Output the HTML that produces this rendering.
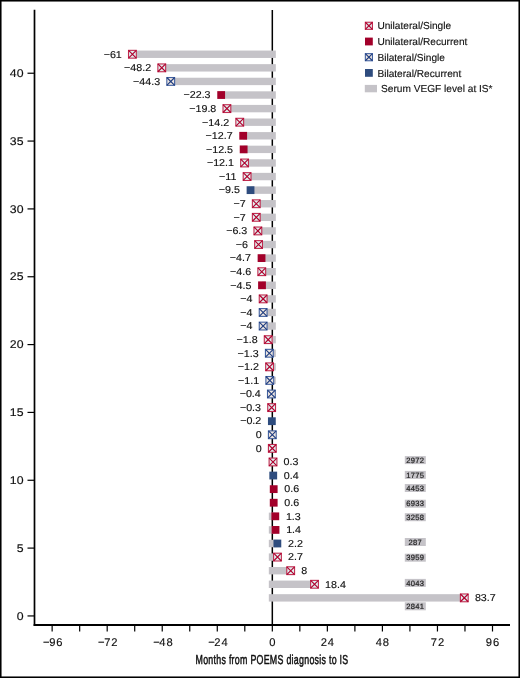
<!DOCTYPE html>
<html><head><meta charset="utf-8"><style>
html,body{margin:0;padding:0;background:#fff;}
body{width:520px;height:678px;overflow:hidden;}
svg{display:block;}
text{font-family:"Liberation Sans",sans-serif;fill:#111;text-rendering:geometricPrecision;}
svg{will-change:transform;}
.vl text{stroke:#111;stroke-width:0.14px;}
.vg text{stroke:#222;stroke-width:0.2px;fill:#222;}
</style></head><body>
<svg width="520" height="678" viewBox="0 0 520 678">
<rect x="0" y="0" width="520" height="678" fill="#fff"/>
<line x1="272.32" y1="10" x2="272.32" y2="625" stroke="#000" stroke-width="1.5"/>
<rect x="132.42" y="50.55" width="143.40" height="7.4" fill="#c5c3c8"/>
<rect x="161.77" y="64.14" width="114.05" height="7.4" fill="#c5c3c8"/>
<rect x="170.72" y="77.73" width="105.10" height="7.4" fill="#c5c3c8"/>
<rect x="221.17" y="91.32" width="54.65" height="7.4" fill="#c5c3c8"/>
<rect x="226.91" y="104.91" width="48.91" height="7.4" fill="#c5c3c8"/>
<rect x="239.75" y="118.50" width="36.07" height="7.4" fill="#c5c3c8"/>
<rect x="243.19" y="132.09" width="32.63" height="7.4" fill="#c5c3c8"/>
<rect x="243.65" y="145.68" width="32.17" height="7.4" fill="#c5c3c8"/>
<rect x="244.57" y="159.27" width="31.25" height="7.4" fill="#c5c3c8"/>
<rect x="247.09" y="172.86" width="28.73" height="7.4" fill="#c5c3c8"/>
<rect x="250.53" y="186.45" width="25.29" height="7.4" fill="#c5c3c8"/>
<rect x="256.27" y="200.04" width="19.55" height="7.4" fill="#c5c3c8"/>
<rect x="256.27" y="213.63" width="19.55" height="7.4" fill="#c5c3c8"/>
<rect x="257.87" y="227.23" width="17.95" height="7.4" fill="#c5c3c8"/>
<rect x="258.56" y="240.82" width="17.26" height="7.4" fill="#c5c3c8"/>
<rect x="261.54" y="254.41" width="14.28" height="7.4" fill="#c5c3c8"/>
<rect x="261.77" y="268.00" width="14.05" height="7.4" fill="#c5c3c8"/>
<rect x="262.00" y="281.59" width="13.82" height="7.4" fill="#c5c3c8"/>
<rect x="263.15" y="295.18" width="12.67" height="7.4" fill="#c5c3c8"/>
<rect x="263.15" y="308.77" width="12.67" height="7.4" fill="#c5c3c8"/>
<rect x="263.15" y="322.36" width="12.67" height="7.4" fill="#c5c3c8"/>
<rect x="268.19" y="335.95" width="7.63" height="7.4" fill="#c5c3c8"/>
<rect x="269.34" y="349.54" width="6.48" height="7.4" fill="#c5c3c8"/>
<rect x="269.57" y="363.13" width="6.25" height="7.4" fill="#c5c3c8"/>
<rect x="269.80" y="376.72" width="6.02" height="7.4" fill="#c5c3c8"/>
<rect x="268.82" y="512.62" width="6.48" height="7.4" fill="#c5c3c8"/>
<rect x="268.82" y="526.21" width="6.71" height="7.4" fill="#c5c3c8"/>
<rect x="268.82" y="539.80" width="8.55" height="7.4" fill="#c5c3c8"/>
<rect x="268.82" y="553.39" width="8.66" height="7.4" fill="#c5c3c8"/>
<rect x="268.82" y="566.99" width="21.85" height="7.4" fill="#c5c3c8"/>
<rect x="268.82" y="580.58" width="45.70" height="7.4" fill="#c5c3c8"/>
<rect x="268.82" y="594.17" width="195.47" height="7.4" fill="#c5c3c8"/>
<g font-size="10" class="vl">
<rect x="128.52" y="50.35" width="7.80" height="7.80" fill="#e0eeee" stroke="#c02c50" stroke-width="1.1"/><path d="M128.52 50.35L136.32 58.15M136.32 50.35L128.52 58.15" stroke="#b0002e" stroke-width="1.15"/>
<text transform="translate(121.82 57.55) scale(1.07 1)" text-anchor="end">−61</text>
<rect x="157.87" y="63.94" width="7.80" height="7.80" fill="#e0eeee" stroke="#c02c50" stroke-width="1.1"/><path d="M157.87 63.94L165.67 71.74M165.67 63.94L157.87 71.74" stroke="#b0002e" stroke-width="1.15"/>
<text transform="translate(151.17 71.14) scale(1.07 1)" text-anchor="end">−48.2</text>
<rect x="166.82" y="77.53" width="7.80" height="7.80" fill="#efe7e1" stroke="#4261a0" stroke-width="1.1"/><path d="M166.82 77.53L174.62 85.33M174.62 77.53L166.82 85.33" stroke="#1f3d80" stroke-width="1.15"/>
<text transform="translate(160.12 84.73) scale(1.07 1)" text-anchor="end">−44.3</text>
<rect x="217.27" y="91.12" width="7.80" height="7.80" fill="#a2002a"/>
<text transform="translate(210.57 98.32) scale(1.07 1)" text-anchor="end">−22.3</text>
<rect x="223.01" y="104.71" width="7.80" height="7.80" fill="#e0eeee" stroke="#c02c50" stroke-width="1.1"/><path d="M223.01 104.71L230.81 112.51M230.81 104.71L223.01 112.51" stroke="#b0002e" stroke-width="1.15"/>
<text transform="translate(216.31 111.91) scale(1.07 1)" text-anchor="end">−19.8</text>
<rect x="235.85" y="118.30" width="7.80" height="7.80" fill="#e0eeee" stroke="#c02c50" stroke-width="1.1"/><path d="M235.85 118.30L243.65 126.10M243.65 118.30L235.85 126.10" stroke="#b0002e" stroke-width="1.15"/>
<text transform="translate(229.15 125.50) scale(1.07 1)" text-anchor="end">−14.2</text>
<rect x="239.29" y="131.89" width="7.80" height="7.80" fill="#a2002a"/>
<text transform="translate(232.59 139.09) scale(1.07 1)" text-anchor="end">−12.7</text>
<rect x="239.75" y="145.48" width="7.80" height="7.80" fill="#a2002a"/>
<text transform="translate(233.05 152.68) scale(1.07 1)" text-anchor="end">−12.5</text>
<rect x="240.67" y="159.07" width="7.80" height="7.80" fill="#e0eeee" stroke="#c02c50" stroke-width="1.1"/><path d="M240.67 159.07L248.47 166.87M248.47 159.07L240.67 166.87" stroke="#b0002e" stroke-width="1.15"/>
<text transform="translate(233.97 166.27) scale(1.07 1)" text-anchor="end">−12.1</text>
<rect x="243.19" y="172.66" width="7.80" height="7.80" fill="#e0eeee" stroke="#c02c50" stroke-width="1.1"/><path d="M243.19 172.66L250.99 180.46M250.99 172.66L243.19 180.46" stroke="#b0002e" stroke-width="1.15"/>
<text transform="translate(236.49 179.86) scale(1.07 1)" text-anchor="end">−11</text>
<rect x="246.63" y="186.25" width="7.80" height="7.80" fill="#2e4c7e"/>
<text transform="translate(239.93 193.45) scale(1.07 1)" text-anchor="end">−9.5</text>
<rect x="252.37" y="199.84" width="7.80" height="7.80" fill="#e0eeee" stroke="#c02c50" stroke-width="1.1"/><path d="M252.37 199.84L260.17 207.64M260.17 199.84L252.37 207.64" stroke="#b0002e" stroke-width="1.15"/>
<text transform="translate(245.67 207.04) scale(1.07 1)" text-anchor="end">−7</text>
<rect x="252.37" y="213.43" width="7.80" height="7.80" fill="#e0eeee" stroke="#c02c50" stroke-width="1.1"/><path d="M252.37 213.43L260.17 221.23M260.17 213.43L252.37 221.23" stroke="#b0002e" stroke-width="1.15"/>
<text transform="translate(245.67 220.63) scale(1.07 1)" text-anchor="end">−7</text>
<rect x="253.97" y="227.03" width="7.80" height="7.80" fill="#e0eeee" stroke="#c02c50" stroke-width="1.1"/><path d="M253.97 227.03L261.77 234.83M261.77 227.03L253.97 234.83" stroke="#b0002e" stroke-width="1.15"/>
<text transform="translate(247.27 234.23) scale(1.07 1)" text-anchor="end">−6.3</text>
<rect x="254.66" y="240.62" width="7.80" height="7.80" fill="#e0eeee" stroke="#c02c50" stroke-width="1.1"/><path d="M254.66 240.62L262.46 248.42M262.46 240.62L254.66 248.42" stroke="#b0002e" stroke-width="1.15"/>
<text transform="translate(247.96 247.82) scale(1.07 1)" text-anchor="end">−6</text>
<rect x="257.64" y="254.21" width="7.80" height="7.80" fill="#a2002a"/>
<text transform="translate(250.94 261.41) scale(1.07 1)" text-anchor="end">−4.7</text>
<rect x="257.87" y="267.80" width="7.80" height="7.80" fill="#e0eeee" stroke="#c02c50" stroke-width="1.1"/><path d="M257.87 267.80L265.67 275.60M265.67 267.80L257.87 275.60" stroke="#b0002e" stroke-width="1.15"/>
<text transform="translate(251.17 275.00) scale(1.07 1)" text-anchor="end">−4.6</text>
<rect x="258.10" y="281.39" width="7.80" height="7.80" fill="#a2002a"/>
<text transform="translate(251.40 288.59) scale(1.07 1)" text-anchor="end">−4.5</text>
<rect x="259.25" y="294.98" width="7.80" height="7.80" fill="#e0eeee" stroke="#c02c50" stroke-width="1.1"/><path d="M259.25 294.98L267.05 302.78M267.05 294.98L259.25 302.78" stroke="#b0002e" stroke-width="1.15"/>
<text transform="translate(252.55 302.18) scale(1.07 1)" text-anchor="end">−4</text>
<rect x="259.25" y="308.57" width="7.80" height="7.80" fill="#efe7e1" stroke="#4261a0" stroke-width="1.1"/><path d="M259.25 308.57L267.05 316.37M267.05 308.57L259.25 316.37" stroke="#1f3d80" stroke-width="1.15"/>
<text transform="translate(252.55 315.77) scale(1.07 1)" text-anchor="end">−4</text>
<rect x="259.25" y="322.16" width="7.80" height="7.80" fill="#efe7e1" stroke="#4261a0" stroke-width="1.1"/><path d="M259.25 322.16L267.05 329.96M267.05 322.16L259.25 329.96" stroke="#1f3d80" stroke-width="1.15"/>
<text transform="translate(252.55 329.36) scale(1.07 1)" text-anchor="end">−4</text>
<rect x="264.29" y="335.75" width="7.80" height="7.80" fill="#e0eeee" stroke="#c02c50" stroke-width="1.1"/><path d="M264.29 335.75L272.09 343.55M272.09 335.75L264.29 343.55" stroke="#b0002e" stroke-width="1.15"/>
<text transform="translate(257.59 342.95) scale(1.07 1)" text-anchor="end">−1.8</text>
<rect x="265.44" y="349.34" width="7.80" height="7.80" fill="#efe7e1" stroke="#4261a0" stroke-width="1.1"/><path d="M265.44 349.34L273.24 357.14M273.24 349.34L265.44 357.14" stroke="#1f3d80" stroke-width="1.15"/>
<text transform="translate(258.74 356.54) scale(1.07 1)" text-anchor="end">−1.3</text>
<rect x="265.67" y="362.93" width="7.80" height="7.80" fill="#e0eeee" stroke="#c02c50" stroke-width="1.1"/><path d="M265.67 362.93L273.47 370.73M273.47 362.93L265.67 370.73" stroke="#b0002e" stroke-width="1.15"/>
<text transform="translate(258.97 370.13) scale(1.07 1)" text-anchor="end">−1.2</text>
<rect x="265.90" y="376.52" width="7.80" height="7.80" fill="#efe7e1" stroke="#4261a0" stroke-width="1.1"/><path d="M265.90 376.52L273.70 384.32M273.70 376.52L265.90 384.32" stroke="#1f3d80" stroke-width="1.15"/>
<text transform="translate(259.20 383.72) scale(1.07 1)" text-anchor="end">−1.1</text>
<rect x="267.50" y="390.11" width="7.80" height="7.80" fill="#efe7e1" stroke="#4261a0" stroke-width="1.1"/><path d="M267.50 390.11L275.30 397.91M275.30 390.11L267.50 397.91" stroke="#1f3d80" stroke-width="1.15"/>
<text transform="translate(260.80 397.31) scale(1.07 1)" text-anchor="end">−0.4</text>
<rect x="267.73" y="403.70" width="7.80" height="7.80" fill="#e0eeee" stroke="#c02c50" stroke-width="1.1"/><path d="M267.73 403.70L275.53 411.50M275.53 403.70L267.73 411.50" stroke="#b0002e" stroke-width="1.15"/>
<text transform="translate(261.03 410.90) scale(1.07 1)" text-anchor="end">−0.3</text>
<rect x="267.96" y="417.29" width="7.80" height="7.80" fill="#2e4c7e"/>
<text transform="translate(261.26 424.49) scale(1.07 1)" text-anchor="end">−0.2</text>
<rect x="268.42" y="430.88" width="7.80" height="7.80" fill="#efe7e1" stroke="#4261a0" stroke-width="1.1"/><path d="M268.42 430.88L276.22 438.68M276.22 430.88L268.42 438.68" stroke="#1f3d80" stroke-width="1.15"/>
<text transform="translate(261.72 438.08) scale(1.07 1)" text-anchor="end">0</text>
<rect x="268.42" y="444.47" width="7.80" height="7.80" fill="#e0eeee" stroke="#c02c50" stroke-width="1.1"/><path d="M268.42 444.47L276.22 452.27M276.22 444.47L268.42 452.27" stroke="#b0002e" stroke-width="1.15"/>
<text transform="translate(261.72 451.67) scale(1.07 1)" text-anchor="end">0</text>
<rect x="269.11" y="458.06" width="7.80" height="7.80" fill="#e0eeee" stroke="#c02c50" stroke-width="1.1"/><path d="M269.11 458.06L276.91 465.86M276.91 458.06L269.11 465.86" stroke="#b0002e" stroke-width="1.15"/>
<text transform="translate(283.61 465.26) scale(1.07 1)">0.3</text>
<rect x="269.34" y="471.65" width="7.80" height="7.80" fill="#2e4c7e"/>
<text transform="translate(283.84 478.85) scale(1.07 1)">0.4</text>
<rect x="269.80" y="485.24" width="7.80" height="7.80" fill="#a2002a"/>
<text transform="translate(284.30 492.44) scale(1.07 1)">0.6</text>
<rect x="269.80" y="498.83" width="7.80" height="7.80" fill="#a2002a"/>
<text transform="translate(284.30 506.03) scale(1.07 1)">0.6</text>
<rect x="271.40" y="512.42" width="7.80" height="7.80" fill="#a2002a"/>
<text transform="translate(285.90 519.62) scale(1.07 1)">1.3</text>
<rect x="271.63" y="526.01" width="7.80" height="7.80" fill="#a2002a"/>
<text transform="translate(286.13 533.21) scale(1.07 1)">1.4</text>
<rect x="273.47" y="539.60" width="7.80" height="7.80" fill="#2e4c7e"/>
<text transform="translate(287.97 546.80) scale(1.07 1)">2.2</text>
<rect x="273.58" y="553.19" width="7.80" height="7.80" fill="#e0eeee" stroke="#c02c50" stroke-width="1.1"/><path d="M273.58 553.19L281.38 560.99M281.38 553.19L273.58 560.99" stroke="#b0002e" stroke-width="1.15"/>
<text transform="translate(288.08 560.39) scale(1.07 1)">2.7</text>
<rect x="286.77" y="566.79" width="7.80" height="7.80" fill="#e0eeee" stroke="#c02c50" stroke-width="1.1"/><path d="M286.77 566.79L294.57 574.59M294.57 566.79L286.77 574.59" stroke="#b0002e" stroke-width="1.15"/>
<text transform="translate(301.27 573.99) scale(1.07 1)">8</text>
<rect x="310.62" y="580.38" width="7.80" height="7.80" fill="#e0eeee" stroke="#c02c50" stroke-width="1.1"/><path d="M310.62 580.38L318.42 588.18M318.42 580.38L310.62 588.18" stroke="#b0002e" stroke-width="1.15"/>
<text transform="translate(325.12 587.58) scale(1.07 1)">18.4</text>
<rect x="460.39" y="593.97" width="7.80" height="7.80" fill="#e0eeee" stroke="#c02c50" stroke-width="1.1"/><path d="M460.39 593.97L468.19 601.77M468.19 593.97L460.39 601.77" stroke="#b0002e" stroke-width="1.15"/>
<text transform="translate(474.89 601.17) scale(1.07 1)">83.7</text>
</g>
<g font-size="7.6" letter-spacing="0.35" class="vg">
<rect x="404.8" y="456.10" width="21" height="8" fill="#c5c3c8"/><text x="415.3" y="462.70" text-anchor="middle">2972</text>
<rect x="404.8" y="470.90" width="21" height="8" fill="#c5c3c8"/><text x="415.3" y="477.50" text-anchor="middle">1775</text>
<rect x="404.8" y="484.00" width="21" height="8" fill="#c5c3c8"/><text x="415.3" y="490.60" text-anchor="middle">4453</text>
<rect x="404.8" y="499.70" width="21" height="8" fill="#c5c3c8"/><text x="415.3" y="506.30" text-anchor="middle">6933</text>
<rect x="404.8" y="513.20" width="21" height="8" fill="#c5c3c8"/><text x="415.3" y="519.80" text-anchor="middle">3258</text>
<rect x="404.8" y="538.00" width="21" height="8" fill="#c5c3c8"/><text x="415.3" y="544.60" text-anchor="middle">287</text>
<rect x="404.8" y="553.70" width="21" height="8" fill="#c5c3c8"/><text x="415.3" y="560.30" text-anchor="middle">3959</text>
<rect x="404.8" y="578.90" width="21" height="8" fill="#c5c3c8"/><text x="415.3" y="585.50" text-anchor="middle">4043</text>
<rect x="404.8" y="602.30" width="21" height="8" fill="#c5c3c8"/><text x="415.3" y="608.90" text-anchor="middle">2841</text>
</g>
<g stroke="#000" stroke-width="1.5">
<line x1="34.5" y1="9.8" x2="34.5" y2="625.9" stroke-width="1.7"/>
<line x1="33.65" y1="625" x2="510" y2="625" stroke-width="1.8"/>
<line x1="27.5" y1="615.94" x2="34.5" y2="615.94" stroke-width="1.2"/>
<line x1="27.5" y1="548.10" x2="34.5" y2="548.10" stroke-width="1.2"/>
<line x1="27.5" y1="480.26" x2="34.5" y2="480.26" stroke-width="1.2"/>
<line x1="27.5" y1="412.42" x2="34.5" y2="412.42" stroke-width="1.2"/>
<line x1="27.5" y1="344.58" x2="34.5" y2="344.58" stroke-width="1.2"/>
<line x1="27.5" y1="276.75" x2="34.5" y2="276.75" stroke-width="1.2"/>
<line x1="27.5" y1="208.91" x2="34.5" y2="208.91" stroke-width="1.2"/>
<line x1="27.5" y1="141.07" x2="34.5" y2="141.07" stroke-width="1.2"/>
<line x1="27.5" y1="73.23" x2="34.5" y2="73.23" stroke-width="1.2"/>
<line x1="52.14" y1="625" x2="52.14" y2="631.5" stroke-width="1.2"/>
<line x1="79.67" y1="625" x2="79.67" y2="631.5" stroke-width="1.2"/>
<line x1="107.19" y1="625" x2="107.19" y2="631.5" stroke-width="1.2"/>
<line x1="134.71" y1="625" x2="134.71" y2="631.5" stroke-width="1.2"/>
<line x1="162.23" y1="625" x2="162.23" y2="631.5" stroke-width="1.2"/>
<line x1="189.75" y1="625" x2="189.75" y2="631.5" stroke-width="1.2"/>
<line x1="217.28" y1="625" x2="217.28" y2="631.5" stroke-width="1.2"/>
<line x1="244.80" y1="625" x2="244.80" y2="631.5" stroke-width="1.2"/>
<line x1="272.32" y1="625" x2="272.32" y2="631.5" stroke-width="1.2"/>
<line x1="299.84" y1="625" x2="299.84" y2="631.5" stroke-width="1.2"/>
<line x1="327.36" y1="625" x2="327.36" y2="631.5" stroke-width="1.2"/>
<line x1="354.89" y1="625" x2="354.89" y2="631.5" stroke-width="1.2"/>
<line x1="382.41" y1="625" x2="382.41" y2="631.5" stroke-width="1.2"/>
<line x1="409.93" y1="625" x2="409.93" y2="631.5" stroke-width="1.2"/>
<line x1="437.45" y1="625" x2="437.45" y2="631.5" stroke-width="1.2"/>
<line x1="464.97" y1="625" x2="464.97" y2="631.5" stroke-width="1.2"/>
<line x1="492.50" y1="625" x2="492.50" y2="631.5" stroke-width="1.2"/>
</g>
<g font-size="11.2" stroke="#111" stroke-width="0.15">
<text transform="translate(23.5 619.64) scale(1.1 1)" text-anchor="end">0</text>
<text transform="translate(23.5 551.80) scale(1.1 1)" text-anchor="end">5</text>
<text transform="translate(23.5 483.96) scale(1.1 1)" text-anchor="end">10</text>
<text transform="translate(23.5 416.12) scale(1.1 1)" text-anchor="end">15</text>
<text transform="translate(23.5 348.28) scale(1.1 1)" text-anchor="end">20</text>
<text transform="translate(23.5 280.45) scale(1.1 1)" text-anchor="end">25</text>
<text transform="translate(23.5 212.61) scale(1.1 1)" text-anchor="end">30</text>
<text transform="translate(23.5 144.77) scale(1.1 1)" text-anchor="end">35</text>
<text transform="translate(23.5 76.93) scale(1.1 1)" text-anchor="end">40</text>
<text x="53.24" y="646.3" letter-spacing="0.9" text-anchor="middle">−<tspan dx="-1.3">96</tspan></text>
<text x="108.29" y="646.3" letter-spacing="0.9" text-anchor="middle">−<tspan dx="-1.3">72</tspan></text>
<text x="163.33" y="646.3" letter-spacing="0.9" text-anchor="middle">−<tspan dx="-1.3">48</tspan></text>
<text x="218.38" y="646.3" letter-spacing="0.9" text-anchor="middle">−<tspan dx="-1.3">24</tspan></text>
<text x="272.77" y="646.3" letter-spacing="0.9" text-anchor="middle">0</text>
<text x="327.81" y="646.3" letter-spacing="0.9" text-anchor="middle">24</text>
<text x="382.86" y="646.3" letter-spacing="0.9" text-anchor="middle">48</text>
<text x="437.90" y="646.3" letter-spacing="0.9" text-anchor="middle">72</text>
<text x="492.95" y="646.3" letter-spacing="0.9" text-anchor="middle">96</text>
</g>
<g font-size="10.15" class="vl">
<rect x="365.35" y="22.25" width="7.10" height="7.10" fill="#e0eeee" stroke="#c02c50" stroke-width="1.1"/><path d="M365.35 22.25L372.45 29.35M372.45 22.25L365.35 29.35" stroke="#b0002e" stroke-width="1.15"/>
<text x="377.4" y="29.40">Unilateral/Single</text>
<rect x="365.00" y="37.60" width="7.80" height="7.80" fill="#a2002a"/>
<text x="377.4" y="45.10">Unilateral/Recurrent</text>
<rect x="365.35" y="53.65" width="7.10" height="7.10" fill="#efe7e1" stroke="#4261a0" stroke-width="1.1"/><path d="M365.35 53.65L372.45 60.75M372.45 53.65L365.35 60.75" stroke="#1f3d80" stroke-width="1.15"/>
<text x="377.4" y="60.80">Bilateral/Single</text>
<rect x="365.00" y="69.00" width="7.80" height="7.80" fill="#2e4c7e"/>
<text x="377.4" y="76.50">Bilateral/Recurrent</text>
<rect x="364.8" y="84.90" width="12.2" height="7.4" fill="#c5c3c8"/>
<text x="381.1" y="92.20">Serum VEGF level at IS*</text>
</g>
<text font-size="13" text-anchor="middle" letter-spacing="0.4" stroke="#111" stroke-width="0.5" transform="translate(272.0 664.3) scale(0.68 1)">Months from POEMS diagnosis to IS</text>
<rect x="0.75" y="0.75" width="518.5" height="676.5" fill="none" stroke="#000" stroke-width="1.6"/>
</svg>
</body></html>
